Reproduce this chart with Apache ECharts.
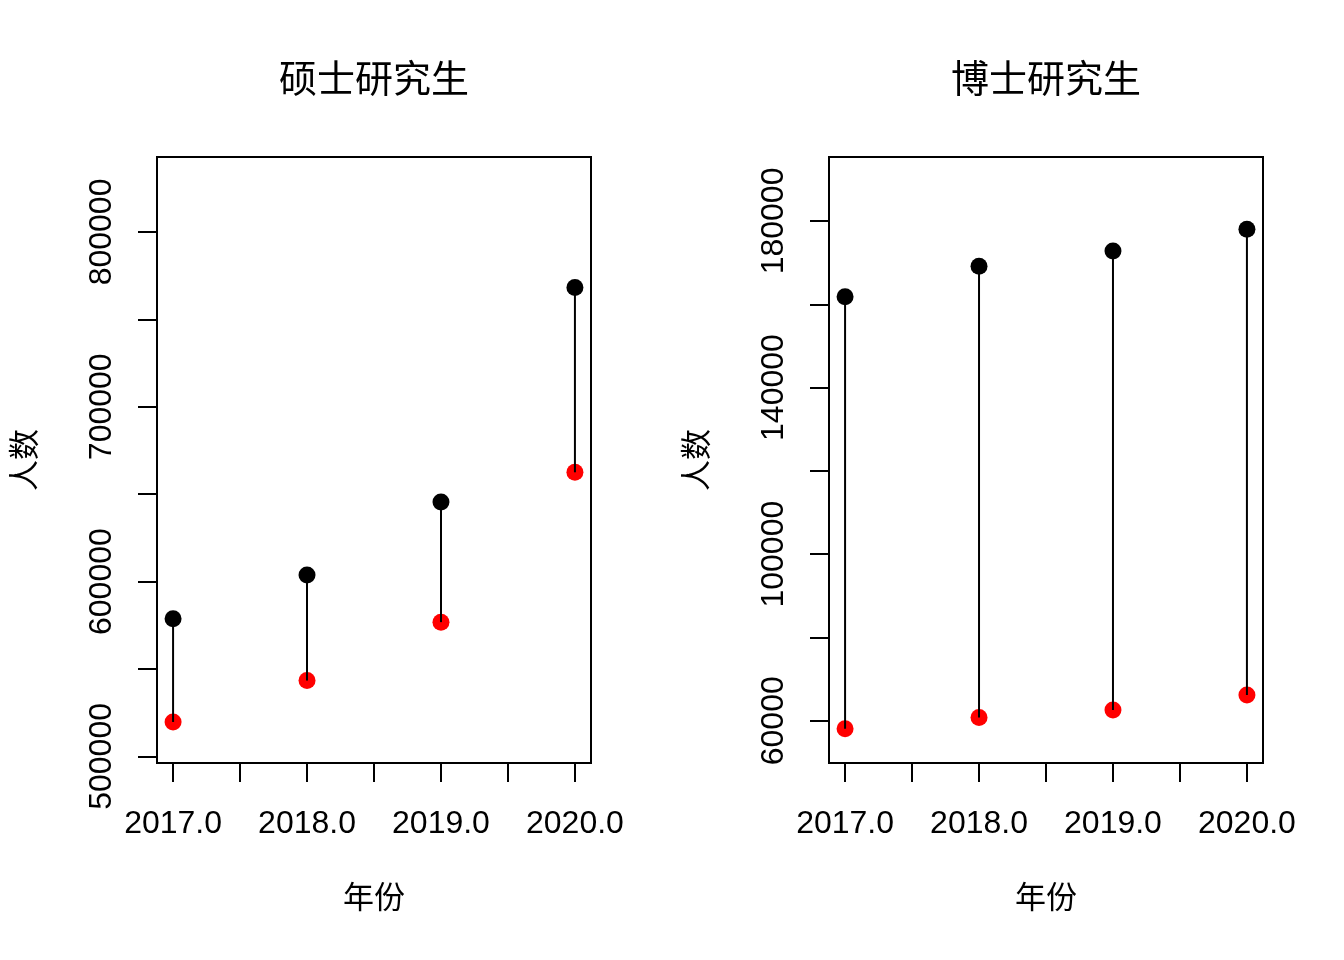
<!DOCTYPE html>
<html>
<head>
<meta charset="utf-8">
<script src="https://cdn.jsdelivr.net/npm/echarts@6/dist/echarts.min.js"></script>
<style>
html, body { margin: 0; padding: 0; background: #fff; }
#chart { width: 1344px; height: 960px; }
</style>
</head>
<body>
<div id="chart"></div>
<script>
// 年份
const years = [2017, 2018, 2019, 2020];
const xTicks = [2017, 2017.5, 2018, 2018.5, 2019, 2019.5, 2020];
const xLabels = [2017, 2018, 2019, 2020];

// 硕士研究生
const masterHigh = [578700, 603800, 645500, 768200];
const masterLow = [519700, 543400, 576800, 662500];
const masterTicks = [500000, 550000, 600000, 650000, 700000, 750000, 800000];
const masterLabels = [500000, 600000, 700000, 800000];

// 博士研究生
const doctorHigh = [161800, 169100, 172800, 178000];
const doctorLow = [58100, 60800, 62600, 66200];
const doctorTicks = [60000, 80000, 100000, 120000, 140000, 160000, 180000];
const doctorLabels = [60000, 100000, 140000, 180000];

const numFont = 'Liberation Sans, Arial, sans-serif';
const cjkFont = 'Noto Sans CJK SC, sans-serif';

var myChart = echarts.init(document.getElementById('chart'));

function xAxisFor(gridIndex) {
    return {
        type: 'value',
        gridIndex: gridIndex,
        min: 2016.88,
        max: 2020.12,
        name: '年份',
        nameLocation: 'middle',
        nameGap: 118,
        nameTextStyle: { fontFamily: cjkFont, fontSize: 31, color: '#000' },
        axisLine: { show: false },
        splitLine: { show: false },
        axisTick: {
            show: true,
            length: 19,
            customValues: xTicks,
            lineStyle: { color: '#000', width: 2 }
        },
        axisLabel: {
            customValues: xLabels,
            margin: 45,
            fontFamily: numFont,
            fontSize: 32,
            color: '#000',
            formatter: v => v.toFixed(1)
        }
    };
}

function yAxisFor(gridIndex, min, max, ticks, labels) {
    return {
        type: 'value',
        gridIndex: gridIndex,
        min: min,
        max: max,
        name: '人数',
        nameLocation: 'middle',
        nameGap: 118,
        nameTextStyle: { fontFamily: cjkFont, fontSize: 31, color: '#000' },
        axisLine: { show: false },
        splitLine: { show: false },
        axisTick: {
            show: true,
            length: 19,
            customValues: ticks,
            lineStyle: { color: '#000', width: 2 }
        },
        axisLabel: {
            customValues: labels,
            rotate: 90,
            margin: 39,
            fontFamily: numFont,
            fontSize: 32,
            color: '#000',
            formatter: v => String(v)
        }
    };
}

function segments(idx, low, high) {
    return {
        type: 'custom',
        xAxisIndex: idx,
        yAxisIndex: idx,
        data: years.map((y, i) => [y, low[i], high[i]]),
        renderItem: function (params, api) {
            const p1 = api.coord([api.value(0), api.value(1)]);
            const p2 = api.coord([api.value(0), api.value(2)]);
            return {
                type: 'line',
                shape: { x1: p1[0], y1: p1[1], x2: p2[0], y2: p2[1] },
                style: { stroke: '#000', lineWidth: 2 }
            };
        },
        z: 3
    };
}

function dots(idx, values, color, z) {
    return {
        type: 'scatter',
        xAxisIndex: idx,
        yAxisIndex: idx,
        data: years.map((y, i) => [y, values[i]]),
        symbol: 'circle',
        symbolSize: 17,
        itemStyle: { color: color, opacity: 1 },
        z: z
    };
}

myChart.setOption({
    animation: false,
    backgroundColor: '#fff',
    title: [
        {
            text: '硕士研究生',
            left: 374,
            top: 59,
            padding: 0,
            textAlign: 'center',
            textStyle: { fontFamily: cjkFont, fontSize: 38, fontWeight: 'normal', color: '#000' }
        },
        {
            text: '博士研究生',
            left: 1046,
            top: 59,
            padding: 0,
            textAlign: 'center',
            textStyle: { fontFamily: cjkFont, fontSize: 38, fontWeight: 'normal', color: '#000' }
        }
    ],
    grid: [
        { left: 157, top: 157, width: 434, height: 606, show: true, borderColor: '#000', borderWidth: 2, backgroundColor: 'transparent' },
        { left: 829, top: 157, width: 434, height: 606, show: true, borderColor: '#000', borderWidth: 2, backgroundColor: 'transparent' }
    ],
    xAxis: [xAxisFor(0), xAxisFor(1)],
    yAxis: [
        yAxisFor(0, 496229, 842857, masterTicks, masterLabels),
        yAxisFor(1, 49854, 195356, doctorTicks, doctorLabels)
    ],
    series: [
        dots(0, masterLow, '#ff0000', 2),
        segments(0, masterLow, masterHigh),
        dots(0, masterHigh, '#000000', 4),
        dots(1, doctorLow, '#ff0000', 2),
        segments(1, doctorLow, doctorHigh),
        dots(1, doctorHigh, '#000000', 4)
    ]
});
</script>
</body>
</html>
